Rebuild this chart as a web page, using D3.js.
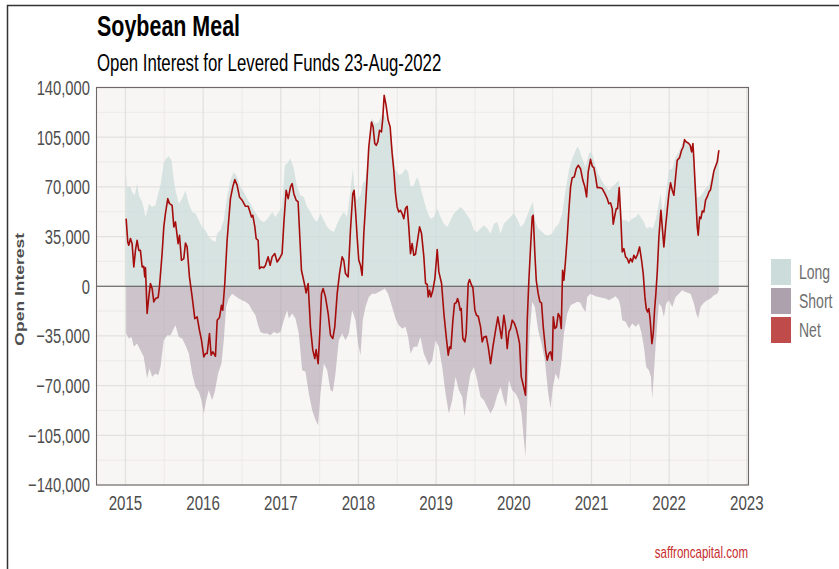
<!DOCTYPE html>
<html>
<head>
<meta charset="utf-8">
<script src="https://cdn.jsdelivr.net/npm/d3@7"></script>
<style>
  body { margin: 0; background: #ffffff; }
  text { font-family: "Liberation Sans", Arial, sans-serif; }
</style>
</head>
<body>
<div id="chart"></div>
<script>
// ---- data ----
var titleText = "Soybean Meal";
var subtitleText = "Open Interest for Levered Funds 23-Aug-2022";
var captionText = "saffroncapital.com";
var legendLabels = ["Long", "Short", "Net"];
var yTicks = [-140000, -105000, -70000, -35000, 0, 35000, 70000, 105000, 140000];
var xTicks = [2015, 2016, 2017, 2018, 2019, 2020, 2021, 2022, 2023];

// [decimal year, contracts]
var netSeries = [
  [2015.009,47600],[2015.030,31200],[2015.043,28900],[2015.065,33600],[2015.086,30000],[2015.108,13600],
  [2015.129,25300],[2015.150,32400],[2015.172,25300],[2015.193,25300],[2015.215,13600],[2015.236,14000],
  [2015.249,6600],[2015.258,13000],[2015.279,-19200],[2015.301,-7500],[2015.322,1900],[2015.344,-1600],
  [2015.365,-11000],[2015.387,-8700],[2015.421,-8000],[2015.438,-500],[2015.472,23000],[2015.494,41800],
  [2015.515,51200],[2015.545,61700],[2015.567,58200],[2015.601,57000],[2015.623,41800],[2015.644,45300],
  [2015.678,30000],[2015.696,35900],[2015.721,18300],[2015.751,19500],[2015.773,30500],[2015.794,27700],
  [2015.824,6600],[2015.859,-7500],[2015.893,-22800],[2015.923,-21600],[2015.953,-31000],[2015.979,-38000],
  [2016.009,-49800],[2016.030,-47400],[2016.052,-47400],[2016.082,-33300],[2016.103,-48600],[2016.125,-46200],
  [2016.159,-49300],[2016.181,-23900],[2016.211,-22000],[2016.236,-13400],[2016.253,-16900],[2016.279,1900],
  [2016.309,32400],[2016.352,61700],[2016.382,70000],[2016.408,75100],[2016.438,71100],[2016.468,62900],
  [2016.502,60600],[2016.545,56300],[2016.580,56300],[2016.597,53500],[2016.623,48800],[2016.640,50000],
  [2016.666,41800],[2016.683,33600],[2016.708,32400],[2016.726,12400],[2016.751,13600],[2016.781,13000],
  [2016.803,14800],[2016.837,20700],[2016.863,14800],[2016.889,20700],[2016.923,23000],[2016.953,17100],
  [2016.983,19500],[2017.017,23000],[2017.039,44100],[2017.069,67600],[2017.095,61700],[2017.125,70000],
  [2017.146,72300],[2017.168,65200],[2017.198,60600],[2017.223,59400],[2017.245,34700],[2017.266,11300],
  [2017.309,500],[2017.326,-4700],[2017.352,1900],[2017.382,-28600],[2017.412,-45000],[2017.438,-50900],
  [2017.455,-44600],[2017.481,-54500],[2017.502,-33300],[2017.524,-5200],[2017.545,-1600],[2017.575,-7500],
  [2017.610,-19200],[2017.640,-34500],[2017.670,-36800],[2017.695,-28600],[2017.726,-5200],[2017.756,8900],
  [2017.790,20700],[2017.811,18300],[2017.833,8900],[2017.867,6600],[2017.897,39400],[2017.927,65200],
  [2017.944,67600],[2017.962,53500],[2017.983,34700],[2018.004,18300],[2018.026,14800],[2018.047,7700],
  [2018.069,37100],[2018.090,55900],[2018.112,77000],[2018.133,98100],[2018.168,115700],[2018.189,112200],
  [2018.210,100500],[2018.228,99300],[2018.249,101600],[2018.271,109800],[2018.296,108700],[2018.313,118100],
  [2018.331,134500],[2018.356,127400],[2018.382,116900],[2018.408,112200],[2018.434,93400],[2018.455,81700],
  [2018.477,65200],[2018.498,55900],[2018.519,52300],[2018.541,53500],[2018.562,51200],[2018.584,47600],
  [2018.605,54700],[2018.627,56300],[2018.648,41800],[2018.670,23000],[2018.691,30000],[2018.713,21800],
  [2018.734,22500],[2018.787,41800],[2018.812,37100],[2018.842,20700],[2018.864,1900],[2018.885,1400],
  [2018.898,-7500],[2018.915,-2800],[2018.932,-7500],[2018.958,-2800],[2018.984,5400],[2019.014,25800],
  [2019.035,10100],[2019.070,1900],[2019.100,-19200],[2019.130,-35700],[2019.156,-48600],[2019.173,-42700],
  [2019.190,-43900],[2019.216,-23900],[2019.237,-12200],[2019.259,-11700],[2019.276,-8700],[2019.293,-11700],
  [2019.310,-16900],[2019.323,-15700],[2019.344,-36800],[2019.370,-39200],[2019.387,-33300],[2019.413,1900],
  [2019.430,4700],[2019.456,700],[2019.473,-900],[2019.499,-16900],[2019.520,-20400],[2019.542,-21100],
  [2019.572,-28600],[2019.593,-39200],[2019.615,-35700],[2019.645,-35200],[2019.671,-42700],[2019.701,-54500],
  [2019.731,-42700],[2019.765,-31000],[2019.795,-21600],[2019.817,-28600],[2019.842,-36800],[2019.872,-20400],
  [2019.894,-28600],[2019.915,-43900],[2019.937,-32200],[2019.958,-29800],[2019.980,-23900],[2020.005,-25800],
  [2020.031,-29800],[2020.057,-35700],[2020.074,-40400],[2020.096,-63800],[2020.117,-68500],[2020.151,-76700],
  [2020.173,-23900],[2020.194,4200],[2020.216,27700],[2020.237,48800],[2020.250,50000],[2020.271,23000],
  [2020.289,4200],[2020.314,-5200],[2020.336,-11000],[2020.357,-11700],[2020.379,-28600],[2020.409,-45000],
  [2020.430,-52100],[2020.452,-47400],[2020.473,-46200],[2020.495,-52100],[2020.508,-21600],[2020.529,-29800],
  [2020.550,-28600],[2020.572,-19200],[2020.593,-21600],[2020.611,-29800],[2020.628,11300],[2020.645,4200],
  [2020.666,18300],[2020.688,34700],[2020.709,53500],[2020.731,70000],[2020.752,76500],[2020.778,77000],
  [2020.804,82800],[2020.829,85200],[2020.859,82800],[2020.889,74600],[2020.915,70000],[2020.937,62900],
  [2020.958,80500],[2020.988,89400],[2021.010,84500],[2021.031,83600],[2021.053,77000],[2021.074,69500],
  [2021.104,69500],[2021.138,68800],[2021.173,65200],[2021.203,61700],[2021.224,58200],[2021.246,58700],
  [2021.267,54700],[2021.280,43700],[2021.301,50000],[2021.319,54700],[2021.336,54700],[2021.357,69500],
  [2021.379,46500],[2021.396,24200],[2021.417,26500],[2021.439,20700],[2021.460,19500],[2021.482,16400],
  [2021.503,19500],[2021.525,17100],[2021.546,21800],[2021.568,19500],[2021.593,22500],[2021.619,27700],
  [2021.645,18300],[2021.666,8900],[2021.688,-7500],[2021.705,-15700],[2021.722,-18100],[2021.739,-15700],
  [2021.756,-23900],[2021.778,-40400],[2021.795,-33300],[2021.812,-16900],[2021.829,-5200],[2021.847,10100],
  [2021.868,34700],[2021.894,53500],[2021.911,41800],[2021.932,27700],[2021.954,41800],[2021.975,53500],
  [2021.997,65200],[2022.018,72800],[2022.040,67600],[2022.061,64100],[2022.083,77000],[2022.104,88700],
  [2022.134,90600],[2022.160,95800],[2022.181,98100],[2022.198,103300],[2022.220,101600],[2022.246,100900],
  [2022.271,99300],[2022.289,94600],[2022.306,100500],[2022.319,88700],[2022.340,65200],[2022.362,41800],
  [2022.374,35900],[2022.392,48800],[2022.409,47600],[2022.426,53000],[2022.447,52300],[2022.469,60600],
  [2022.490,62900],[2022.512,66400],[2022.533,68000],[2022.555,74600],[2022.576,81200],[2022.598,84500],
  [2022.619,87500],[2022.640,95800]
];

var longSeries = [
  [2015.009,78000],[2015.022,69900],[2015.065,69900],[2015.086,66400],[2015.120,64100],[2015.150,72300],
  [2015.172,64100],[2015.215,59400],[2015.236,54700],[2015.258,48800],[2015.279,52300],[2015.301,58200],
  [2015.344,55900],[2015.387,57000],[2015.421,65200],[2015.451,71100],[2015.494,86400],[2015.524,89900],
  [2015.558,91500],[2015.593,88700],[2015.623,74600],[2015.644,67600],[2015.687,58200],[2015.730,61700],
  [2015.773,67600],[2015.816,58200],[2015.859,52300],[2015.902,51200],[2015.944,46500],[2015.987,41800],
  [2016.030,39400],[2016.073,34700],[2016.116,32400],[2016.159,31200],[2016.181,37100],[2016.223,39400],
  [2016.266,46500],[2016.309,62900],[2016.352,74600],[2016.395,80500],[2016.438,77000],[2016.481,69900],
  [2016.524,66400],[2016.567,61700],[2016.610,58200],[2016.653,53500],[2016.696,50000],[2016.738,46500],
  [2016.781,45300],[2016.803,46000],[2016.846,48800],[2016.889,52300],[2016.932,48800],[2016.974,52300],
  [2017.017,55900],[2017.052,85200],[2017.082,86400],[2017.125,89900],[2017.168,82800],[2017.210,69900],
  [2017.253,64100],[2017.296,62900],[2017.339,55900],[2017.382,52300],[2017.425,47600],[2017.468,45300],
  [2017.511,51200],[2017.554,46500],[2017.597,41800],[2017.640,39400],[2017.683,38300],[2017.726,44100],
  [2017.768,48800],[2017.811,52300],[2017.854,48800],[2017.897,67600],[2017.927,82800],[2017.953,65200],
  [2017.983,60600],[2018.026,64100],[2018.056,72300],[2018.090,74600],[2018.125,88700],[2018.155,114500],
  [2018.176,118100],[2018.219,114500],[2018.262,115700],[2018.305,121600],[2018.348,119300],[2018.391,112200],
  [2018.434,98100],[2018.477,81700],[2018.519,78200],[2018.562,79300],[2018.605,82800],[2018.640,80500],
  [2018.670,69900],[2018.713,71100],[2018.756,77000],[2018.778,74000],[2018.842,60600],[2018.885,52300],
  [2018.928,47600],[2018.971,48800],[2019.014,54700],[2019.057,48800],[2019.100,44100],[2019.143,41800],
  [2019.186,46500],[2019.229,51200],[2019.271,53500],[2019.314,55900],[2019.357,53500],[2019.400,50000],
  [2019.443,46500],[2019.486,39400],[2019.529,38300],[2019.572,40600],[2019.615,42900],[2019.658,40600],
  [2019.701,37100],[2019.744,44100],[2019.787,45300],[2019.829,37100],[2019.872,44100],[2019.915,46500],
  [2019.958,48800],[2020.001,51200],[2020.044,47600],[2020.087,41800],[2020.130,44100],[2020.173,50000],
  [2020.216,55900],[2020.246,59400],[2020.271,46500],[2020.314,40600],[2020.366,38300],[2020.409,35900],
  [2020.452,35900],[2020.495,37100],[2020.538,41800],[2020.580,44100],[2020.623,51200],[2020.666,67600],
  [2020.709,81700],[2020.752,89900],[2020.787,94600],[2020.817,98100],[2020.838,96900],[2020.881,89900],
  [2020.924,84000],[2020.967,93400],[2021.001,94600],[2021.044,86400],[2021.087,79300],[2021.130,74600],
  [2021.181,69900],[2021.224,67600],[2021.267,69900],[2021.310,72300],[2021.353,74600],[2021.396,46500],
  [2021.439,46500],[2021.482,45300],[2021.525,47600],[2021.568,48800],[2021.602,51200],[2021.632,48800],
  [2021.675,45300],[2021.705,40600],[2021.748,41800],[2021.791,40600],[2021.825,46500],[2021.859,55900],
  [2021.889,65200],[2021.919,51200],[2021.954,62900],[2021.997,81700],[2022.040,82800],[2022.083,91100],
  [2022.125,94600],[2022.168,100500],[2022.211,102800],[2022.254,100500],[2022.297,98100],[2022.331,81700],
  [2022.362,62900],[2022.392,62900],[2022.426,65200],[2022.469,68800],[2022.512,71100],[2022.555,79300],
  [2022.598,86400],[2022.640,98100]
];

var shortSeries = [
  [2015.009,-33300],[2015.043,-36800],[2015.078,-35700],[2015.108,-42700],[2015.150,-40400],[2015.193,-45000],
  [2015.236,-49800],[2015.279,-65000],[2015.309,-58000],[2015.344,-63800],[2015.387,-61500],[2015.421,-62700],
  [2015.451,-56800],[2015.494,-38000],[2015.537,-34500],[2015.580,-34500],[2015.623,-29800],[2015.644,-27500],
  [2015.687,-35700],[2015.730,-36800],[2015.773,-41500],[2015.816,-47400],[2015.859,-61500],[2015.902,-70900],
  [2015.944,-74400],[2015.979,-80300],[2016.009,-89700],[2016.039,-80300],[2016.073,-73200],[2016.116,-80300],
  [2016.150,-74400],[2016.193,-61500],[2016.236,-54500],[2016.266,-38000],[2016.296,-14600],[2016.331,-8700],
  [2016.374,-5200],[2016.417,-7000],[2016.459,-8700],[2016.502,-9900],[2016.545,-11000],[2016.588,-12700],
  [2016.631,-16900],[2016.674,-20400],[2016.708,-27500],[2016.738,-32200],[2016.781,-33300],[2016.824,-33300],
  [2016.867,-34500],[2016.910,-32200],[2016.953,-33300],[2016.996,-32200],[2017.039,-23900],[2017.082,-16900],
  [2017.103,-22800],[2017.146,-19200],[2017.189,-22800],[2017.232,-33300],[2017.275,-59100],[2017.318,-60300],
  [2017.361,-75600],[2017.404,-87300],[2017.447,-94300],[2017.481,-97900],[2017.511,-75600],[2017.554,-54500],
  [2017.597,-59100],[2017.640,-73200],[2017.670,-74400],[2017.704,-61500],[2017.747,-38000],[2017.790,-33300],
  [2017.833,-38000],[2017.876,-33300],[2017.919,-16900],[2017.962,-23900],[2017.996,-40400],[2018.026,-48600],
  [2018.056,-23900],[2018.090,-14600],[2018.133,-7500],[2018.176,-5200],[2018.219,-5200],[2018.262,-4000],
  [2018.305,-2800],[2018.339,-1600],[2018.382,-5200],[2018.434,-14600],[2018.477,-22800],[2018.519,-27500],
  [2018.562,-29800],[2018.605,-28600],[2018.640,-35700],[2018.670,-47400],[2018.713,-42700],[2018.756,-42700],
  [2018.798,-35700],[2018.841,-47400],[2018.907,-55600],[2018.950,-52100],[2018.993,-38000],[2019.035,-42700],
  [2019.078,-56800],[2019.121,-75600],[2019.164,-89700],[2019.207,-80300],[2019.250,-63800],[2019.293,-73200],
  [2019.336,-77900],[2019.366,-92000],[2019.400,-75600],[2019.443,-61500],[2019.486,-56800],[2019.529,-66200],
  [2019.572,-77900],[2019.615,-80300],[2019.658,-85000],[2019.701,-89700],[2019.744,-85000],[2019.787,-76700],
  [2019.829,-70900],[2019.872,-80300],[2019.902,-85000],[2019.937,-66200],[2019.980,-73200],[2020.023,-75600],
  [2020.065,-80300],[2020.100,-89700],[2020.130,-108400],[2020.151,-120100],[2020.173,-80300],[2020.203,-33300],
  [2020.237,-11000],[2020.271,-14600],[2020.314,-31000],[2020.357,-40400],[2020.400,-52100],[2020.443,-75600],
  [2020.473,-86100],[2020.503,-70900],[2020.538,-61500],[2020.580,-66200],[2020.615,-52100],[2020.645,-33300],
  [2020.688,-19200],[2020.731,-13400],[2020.774,-12200],[2020.817,-11000],[2020.859,-11700],[2020.881,-14600],
  [2020.924,-18100],[2020.945,-7500],[2020.988,-5200],[2021.053,-7000],[2021.117,-8000],[2021.181,-8700],
  [2021.224,-9900],[2021.267,-8700],[2021.310,-7000],[2021.353,-9900],[2021.374,-14600],[2021.396,-23900],
  [2021.439,-25000],[2021.482,-29800],[2021.525,-26300],[2021.568,-28600],[2021.610,-26300],[2021.645,-33300],
  [2021.675,-42700],[2021.705,-56800],[2021.739,-59100],[2021.765,-63800],[2021.782,-79100],[2021.804,-61500],
  [2021.825,-42700],[2021.847,-26300],[2021.868,-12200],[2021.902,-14600],[2021.932,-21600],[2021.962,-12200],
  [2021.997,-9900],[2022.040,-14600],[2022.083,-7500],[2022.125,-5200],[2022.168,-2800],[2022.211,-4000],
  [2022.276,-5200],[2022.319,-12200],[2022.349,-19200],[2022.374,-22800],[2022.404,-14600],[2022.447,-11700],
  [2022.490,-9900],[2022.533,-8700],[2022.576,-6300],[2022.619,-5200],[2022.640,-2800]
];

// ---- layout ----
var svgWidth = 839;
var svgHeight = 569;

var panel = {
  left: 96.5,
  right: 748.5,
  top: 87.5,
  bottom: 485
};

// the reference text is squeezed horizontally
var squeeze = 0.72;

var colors = {
  long: "#cbdcdb",
  short: "#ada1ad",
  netKey: "#c04b4b",
  netLine: "#a50d0d",
  panelBg: "#f7f6f4",
  gridMajor: "#e3e1df",
  gridMinor: "#ebe9e7"
};

var svg = d3.select("#chart")
  .append("svg")
  .attr("width", svgWidth)
  .attr("height", svgHeight);

// helper: text with horizontal squeeze
function addText(x, y, str, size, opts) {
  opts = opts || {};
  var rot = opts.rotate ? " rotate(" + opts.rotate + ")" : "";
  return svg.append("text")
    .attr("transform", `translate(${x},${y}) scale(${opts.k || squeeze},1)` + rot)
    .attr("text-anchor", opts.anchor || "start")
    .attr("dy", opts.dy || 0)
    .style("font-size", size + "px")
    .style("font-weight", opts.bold ? "bold" : "normal")
    .style("fill", opts.fill || "#000")
    .text(str);
}

// scales -- x padded 5% each side like ggplot
var yearExtent = d3.extent(netSeries, d => d[0]);
var pad = (yearExtent[1] - yearExtent[0]) * 0.05;

var xScale = d3.scaleLinear()
  .domain([yearExtent[0] - pad, yearExtent[1] + pad])
  .range([panel.left, panel.right]);

var yScale = d3.scaleLinear()
  .domain([-140000, 140000])
  .range([panel.bottom, panel.top]);

// panel background
svg.append("rect")
  .attr("x", panel.left)
  .attr("y", panel.top)
  .attr("width", panel.right - panel.left)
  .attr("height", panel.bottom - panel.top)
  .attr("fill", colors.panelBg);

// gridlines
var gridGroup = svg.append("g");
var minorY = yTicks.slice(0, -1).map(d => d + 17500);
var minorX = xTicks.map(d => d + 0.5).concat([xTicks[0] - 0.5])
  .filter(d => d > xScale.domain()[0] && d < xScale.domain()[1]);

gridGroup.selectAll(".minor-y")
  .data(minorY)
  .enter()
  .append("line")
  .attr("x1", panel.left).attr("x2", panel.right)
  .attr("y1", d => yScale(d)).attr("y2", d => yScale(d))
  .attr("stroke", colors.gridMinor)
  .attr("stroke-width", 0.9);

gridGroup.selectAll(".minor-x")
  .data(minorX)
  .enter()
  .append("line")
  .attr("y1", panel.top).attr("y2", panel.bottom)
  .attr("x1", d => xScale(d)).attr("x2", d => xScale(d))
  .attr("stroke", colors.gridMinor)
  .attr("stroke-width", 0.9);

gridGroup.selectAll(".major-y")
  .data(yTicks)
  .enter()
  .append("line")
  .attr("x1", panel.left).attr("x2", panel.right)
  .attr("y1", d => yScale(d)).attr("y2", d => yScale(d))
  .attr("stroke", colors.gridMajor)
  .attr("stroke-width", 1.3);

gridGroup.selectAll(".major-x")
  .data(xTicks)
  .enter()
  .append("line")
  .attr("y1", panel.top).attr("y2", panel.bottom)
  .attr("x1", d => xScale(d)).attr("x2", d => xScale(d))
  .attr("stroke", colors.gridMajor)
  .attr("stroke-width", 1.3);

// areas
var area = d3.area()
  .x(d => xScale(d[0]))
  .y0(yScale(0))
  .y1(d => yScale(d[1]));

svg.append("path")
  .datum(longSeries)
  .attr("d", area)
  .attr("fill", colors.long)
  .attr("fill-opacity", 0.75);

svg.append("path")
  .datum(shortSeries)
  .attr("d", area)
  .attr("fill", colors.short)
  .attr("fill-opacity", 0.58);

// zero line
svg.append("line")
  .attr("x1", panel.left).attr("x2", panel.right)
  .attr("y1", yScale(0)).attr("y2", yScale(0))
  .attr("stroke", "#555555")
  .attr("stroke-width", 1.2);

// net line
var line = d3.line()
  .x(d => xScale(d[0]))
  .y(d => yScale(d[1]));

svg.append("path")
  .datum(netSeries)
  .attr("d", line)
  .attr("fill", "none")
  .attr("stroke", colors.netLine)
  .attr("stroke-width", 1.6)
  .attr("stroke-linejoin", "round");

// panel border
svg.append("rect")
  .attr("x", panel.left)
  .attr("y", panel.top)
  .attr("width", panel.right - panel.left)
  .attr("height", panel.bottom - panel.top)
  .attr("fill", "none")
  .attr("stroke", "#6e6868")
  .attr("stroke-width", 1.1);

// axis labels
var fmt = d3.format(",");
yTicks.forEach(function(t) {
  addText(90, yScale(t), fmt(t), 20.5, {anchor: "end", dy: "0.36em", fill: "#4d4d4d"});
});
xTicks.forEach(function(t) {
  addText(xScale(t), 510, String(t), 21, {anchor: "middle", fill: "#4d4d4d"});
});

addText(24, (panel.top + panel.bottom) / 2 + 3, "Open Interest", 17.5,
  {anchor: "middle", bold: true, fill: "#4d4d4d", rotate: -90, k: 0.78});

// titles
addText(97, 36, titleText, 29, {bold: true, k: 0.74});
addText(97, 71, subtitleText, 23, {k: 0.73});

// legend
var legendColors = [colors.long, colors.short, colors.netKey];
legendLabels.forEach(function(lbl, i) {
  var y0 = 259 + i * 29;
  svg.append("rect")
    .attr("x", 771)
    .attr("y", y0)
    .attr("width", 20)
    .attr("height", 26)
    .attr("fill", legendColors[i]);
  addText(799, y0 + 13, lbl, 20, {dy: "0.36em", fill: "#6e6e6e", k: 0.7});
});

// caption
addText(748, 558, captionText, 16, {anchor: "end", fill: "#c62d2d", k: 0.72});

// outer frame (left + top edge visible in the reference)
svg.append("path")
  .attr("d", "M7.5," + svgHeight + " V5.5 H" + svgWidth)
  .attr("fill", "none")
  .attr("stroke", "#333333")
  .attr("stroke-width", 1.5);
</script>
</body>
</html>
